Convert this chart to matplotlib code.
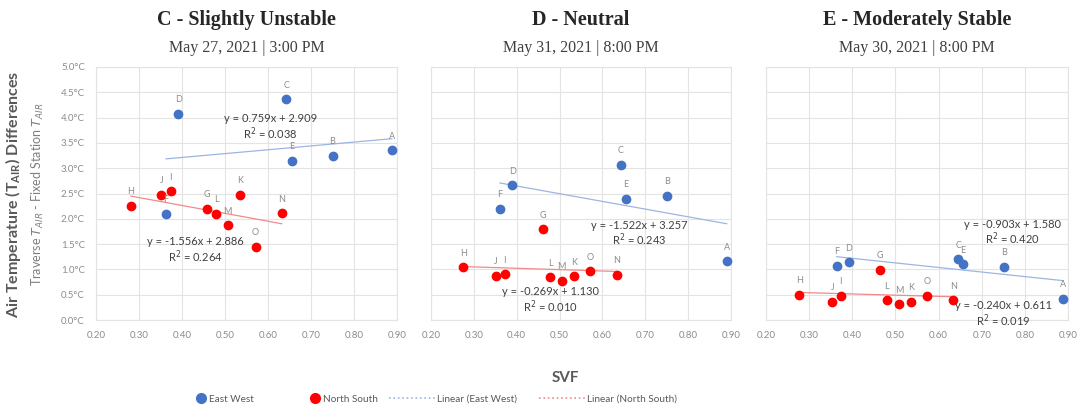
import matplotlib.pyplot as plt
from matplotlib.lines import Line2D

plt.rcParams['font.family'] = ['Lato', 'DejaVu Sans']

# panel info
titles = ['C - Slightly Unstable', 'D - Neutral', 'E - Moderately Stable']
subtitles = ['May 27, 2021 | 3:00 PM', 'May 31, 2021 | 8:00 PM', 'May 30, 2021 | 8:00 PM']

# East West points (labels A-F)
ew_labels = ['A', 'B', 'C', 'D', 'E', 'F']
ew_x = [
    [0.888, 0.750, 0.643, 0.391, 0.655, 0.363],
    [0.890, 0.750, 0.643, 0.390, 0.654, 0.361],
    [0.889, 0.752, 0.646, 0.392, 0.656, 0.364],
]
ew_y = [
    [3.35, 3.25, 4.36, 4.08, 3.15, 2.10],
    [1.16, 2.45, 3.06, 2.66, 2.40, 2.20],
    [0.42, 1.05, 1.20, 1.14, 1.10, 1.07],
]

# North South points (labels G-O)
ns_labels = ['G', 'H', 'I', 'J', 'K', 'L', 'M', 'N', 'O']
ns_x = [
    [0.459, 0.281, 0.374, 0.352, 0.535, 0.479, 0.506, 0.632, 0.571],
    [0.462, 0.275, 0.372, 0.351, 0.534, 0.478, 0.505, 0.633, 0.571],
    [0.464, 0.277, 0.373, 0.354, 0.537, 0.480, 0.508, 0.634, 0.573],
]
ns_y = [
    [2.20, 2.25, 2.54, 2.47, 2.48, 2.10, 1.87, 2.11, 1.45],
    [1.79, 1.04, 0.90, 0.87, 0.86, 0.84, 0.77, 0.89, 0.96],
    [0.99, 0.50, 0.48, 0.36, 0.36, 0.39, 0.31, 0.39, 0.47],
]

# trend lines (slope, intercept, r2) as printed on chart
ew_fit = [(0.759, 2.909, 0.038), (-1.522, 3.257, 0.243), (-0.903, 1.580, 0.420)]
ns_fit = [(-1.556, 2.886, 0.264), (-0.269, 1.130, 0.010), (-0.240, 0.611, 0.019)]

# where the equation boxes sit (data coords)
ew_eq_pos = [(0.605, 3.81), (0.686, 1.70), (0.772, 1.72)]
ns_eq_pos = [(0.430, 1.38), (0.478, 0.39), (0.750, 0.11)]

blue = '#4472C4'
red = '#FF0000'
blue_tr = '#9CB5E3'
red_tr = '#F28A8A'
txt = '#595959'

fig = plt.figure(figsize=(10.88, 4.07), dpi=100)
lefts = [96 / 1088, 431 / 1088, 766 / 1088]
widths = [301 / 1088, 300 / 1088, 302 / 1088]
bottom = 1 - 320 / 407
height = 253 / 407

for i in range(3):
    ax = fig.add_axes([lefts[i], bottom, widths[i], height])
    ax.set_xlim(0.2, 0.9)
    ax.set_ylim(0, 5)
    ax.set_xticks([0.2, 0.3, 0.4, 0.5, 0.6, 0.7, 0.8, 0.9])
    ax.set_xticklabels(['%.2f' % v for v in ax.get_xticks()])
    ax.set_yticks([0, 0.5, 1, 1.5, 2, 2.5, 3, 3.5, 4, 4.5, 5])
    if i == 0:
        ax.set_yticklabels(['%.1f°C' % v for v in ax.get_yticks()])
    else:
        ax.set_yticklabels([])
    ax.tick_params(length=0, labelsize=7, labelcolor='#8c8c8c', pad=8)
    ax.grid(True, color='#e3e3e3', lw=0.8)
    ax.set_axisbelow(True)
    for s in ax.spines.values():
        s.set_color('#e3e3e3')
        s.set_linewidth(0.8)

    # trend lines
    for xs, (m, b, r2), c in [(ew_x[i], ew_fit[i], blue_tr), (ns_x[i], ns_fit[i], red_tr)]:
        x0, x1 = min(xs), max(xs)
        ax.plot([x0, x1], [m * x0 + b, m * x1 + b], color=c, lw=0.9, zorder=2)

    ax.scatter(ew_x[i], ew_y[i], s=36, color=blue, zorder=3, clip_on=False)
    ax.scatter(ns_x[i], ns_y[i], s=36, color=red, zorder=3, clip_on=False)

    for lab, x, y in zip(ew_labels, ew_x[i], ew_y[i]):
        ax.annotate(lab, (x, y), xytext=(0, 7), textcoords='offset points',
                    ha='center', va='bottom', fontsize=6.5, color='#8c8c8c')
    for lab, x, y in zip(ns_labels, ns_x[i], ns_y[i]):
        ax.annotate(lab, (x, y), xytext=(0, 7), textcoords='offset points',
                    ha='center', va='bottom', fontsize=6.5, color='#8c8c8c')

    for (m, b, r2), (ex, ey) in [(ew_fit[i], ew_eq_pos[i]), (ns_fit[i], ns_eq_pos[i])]:
        sign = '+' if b >= 0 else '-'
        ax.text(ex, ey, 'y = %.3fx %s %.3f\nR$^2$ = %.3f' % (m, sign, abs(b), r2),
                ha='center', va='center', fontsize=8, color='#404040',
                linespacing=1.1, clip_on=False, zorder=4)

    cx = lefts[i] + widths[i] / 2
    fig.text(cx, 1 - 20 / 407, titles[i], ha='center', va='center',
             fontsize=14.5, fontweight='bold', family='Liberation Serif', color='#262626')
    fig.text(cx, 1 - 48 / 407, subtitles[i], ha='center', va='center',
             fontsize=11.5, family='Liberation Serif', color='#404040')

fig.text(0.012, 0.523, r'Air Temperature ($\mathregular{T_{AIR}}$) Differences',
         rotation=90, ha='center', va='center', fontsize=11.5, fontweight='bold', color=txt)
fig.text(0.035, 0.523, r'Traverse $T_{AIR}$ - Fixed Station $T_{AIR}$',
         rotation=90, ha='center', va='center', fontsize=9, color='#7f7f7f')
fig.text(565 / 1088, 1 - 378 / 407, 'SVF', ha='center', va='center',
         fontsize=11, fontweight='bold', color=txt)

# legend
mk = [Line2D([], [], ls='', marker='o', ms=7, color=blue, label='East West'),
      Line2D([], [], ls='', marker='o', ms=7, color=red, label='North South')]
ln = [Line2D([], [], ls=':', lw=1.2, color=blue_tr, label='Linear (East West)'),
      Line2D([], [], ls=':', lw=1.2, color=red_tr, label='Linear (North South)')]
fig.legend(handles=mk, loc='center', bbox_to_anchor=(287 / 1088, 1 - 399 / 407),
           ncol=2, frameon=False, fontsize=7.2, handlelength=1, handletextpad=0.3,
           columnspacing=5.6, labelcolor=txt)
fig.legend(handles=ln, loc='center', bbox_to_anchor=(533 / 1088, 1 - 399 / 407),
           ncol=2, frameon=False, fontsize=7.2, handlelength=4.6, handletextpad=0.2,
           columnspacing=2.2, labelcolor=txt)

plt.savefig('out.png', dpi=100)
